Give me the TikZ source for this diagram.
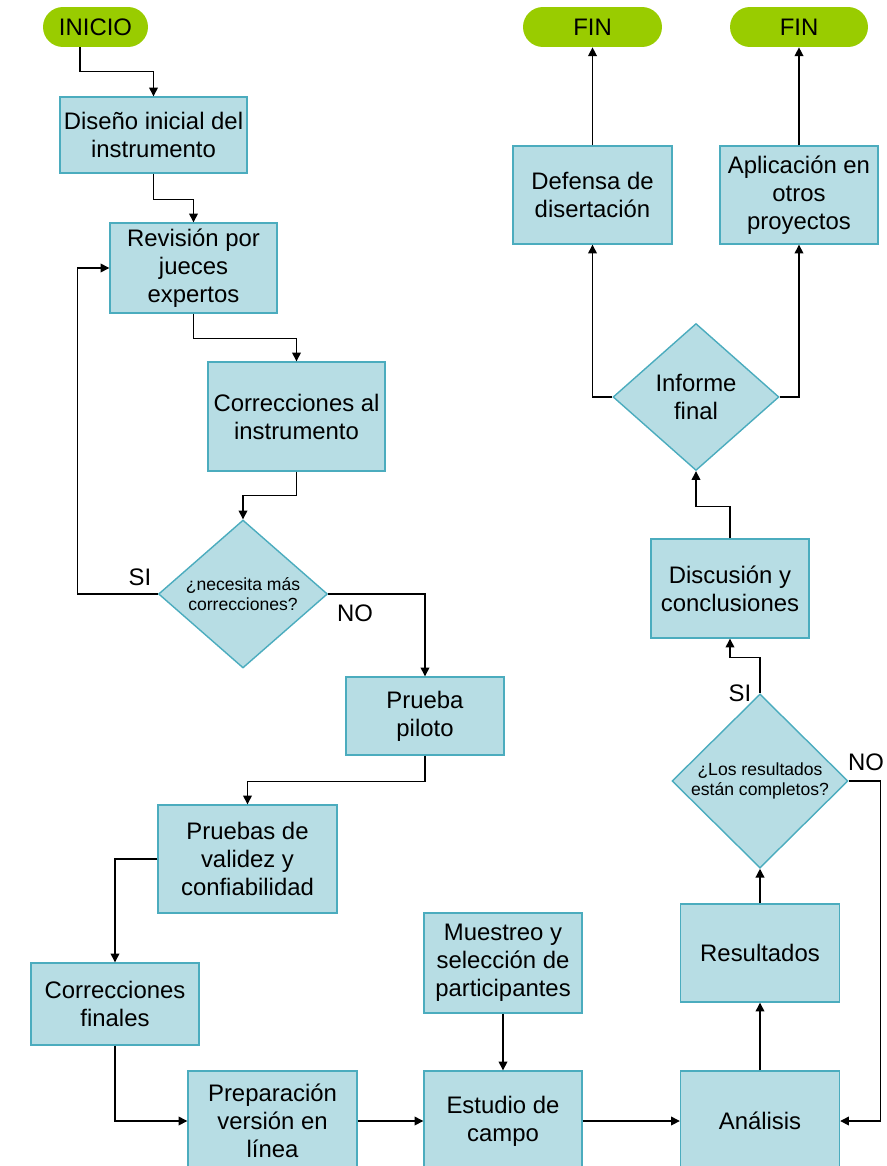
\documentclass[tikz,border=0pt]{standalone}
\usepackage{fontspec}
\setmainfont{Liberation Sans}
\usetikzlibrary{shapes.geometric,arrows.meta}

\definecolor{pgreen}{RGB}{153, 204, 0}
\definecolor{paqua}{RGB}{183, 221, 228}
\definecolor{pteal}{RGB}{75, 172, 190}

\tikzset{
    caja/.style = {
        draw          = pteal,
        line width    = 0.8pt,
        fill          = paqua,
        align         = center,
        inner sep     = 0pt,
        font          = \fontsize{13.6}{15.9}\selectfont
    },
    decision/.style = {
        caja,
        diamond,
        font          = \fontsize{10}{11.4}\selectfont
    },
    terminal/.style = {
        fill          = pgreen,
        rounded corners = 0.4cm,
        minimum height = 0.8cm,
        inner sep     = 0pt,
        font          = \fontsize{13.6}{15.9}\selectfont
    },
    etiqueta/.style = {
        inner sep     = 0pt,
        font          = \fontsize{13.6}{15.9}\selectfont
    },
    flecha/.style = {
        line width    = 0.75pt,
        -{Triangle[length=5pt, width=5pt]}
    }
}

\begin{document}
\begin{tikzpicture}[x=0.02cm, y=-0.02cm]
    \clip (0,0) rectangle (886,1166);

    \node[terminal, minimum width=2.1cm]  (inicio) at (95.5,27)  {INICIO};
    \node[terminal, minimum width=2.78cm] (fin1)   at (592.5,27) {FIN};
    \node[terminal, minimum width=2.76cm] (fin2)   at (799,27)   {FIN};

    \node[caja, minimum width=3.74cm, minimum height=1.52cm] (diseno)     at (153.5,135)   {Diseño inicial del\\instrumento};
    \node[caja, minimum width=3.34cm, minimum height=1.8cm]  (revision)   at (193.5,268)   {Revisión por\\jueces\\expertos};
    \node[caja, minimum width=3.54cm, minimum height=2.18cm] (correc)     at (296.5,416.5) {Correcciones al\\instrumento};
    \node[decision, minimum width=3.38cm, minimum height=2.96cm] (dec1)   at (243,594)     {¿necesita más\\correcciones?};
    \node[caja, minimum width=3.16cm, minimum height=1.56cm] (piloto)     at (425,716)     {Prueba\\piloto};
    \node[caja, minimum width=3.58cm, minimum height=2.16cm] (pruebas)    at (247.5,859)   {Pruebas de\\validez y\\confiabilidad};
    \node[caja, minimum width=3.36cm, minimum height=1.64cm] (cfinal)     at (115,1004)    {Correcciones\\finales};
    \node[caja, minimum width=3.38cm, minimum height=2cm]    (prep)       at (272.5,1121)  {Preparación\\versión en\\línea};
    \node[caja, minimum width=3.16cm, minimum height=2cm]    (muestreo)   at (503,963)     {Muestreo y\\selección de\\participantes};
    \node[caja, minimum width=3.16cm, minimum height=2cm]    (estudio)    at (503,1121)    {Estudio de\\campo};
    \node[caja, minimum width=3.18cm, minimum height=2cm]    (analisis)   at (760,1121)    {Análisis};
    \node[caja, minimum width=3.18cm, minimum height=1.96cm] (resultados) at (760,953)     {Resultados};
    \node[decision, minimum width=3.52cm, minimum height=2.92cm] (dec2)   at (760,781)     {¿Los resultados\\están completos?};
    \node[caja, minimum width=3.16cm, minimum height=1.98cm] (discusion)  at (730,588.5)   {Discusión y\\conclusiones};
    \node[decision, font=\fontsize{13.6}{15.9}\selectfont, minimum width=3.32cm, minimum height=2.94cm] (informe) at (696,397) {Informe\\final};
    \node[caja, minimum width=3.18cm, minimum height=1.96cm] (defensa)    at (592.5,195)   {Defensa de\\disertación};
    \node[caja, minimum width=3.16cm, minimum height=1.96cm] (aplicacion) at (799,195)     {Aplicación en\\otros\\proyectos};

    \node[etiqueta] (si1) at (140,577) {SI};
    \node[etiqueta] (no1) at (355,613) {NO};
    \node[etiqueta] (si2) at (740,693) {SI};
    \node[etiqueta] (no2) at (866,762) {NO};

    \draw[flecha] ([xshift=-0.31cm]inicio.south) -- ++(0,24) -| (diseno.north);
    \draw[flecha] (diseno.south) -- ++(0,26) -| (revision.north);
    \draw[flecha] (revision.south) -- ++(0,25) -| (correc.north);
    \draw[flecha] (correc.south) -- ++(0,24) -| (dec1.north);
    \draw[flecha] (dec1.west) -- ++(-80,0) |- (revision.west);
    \draw[flecha] (dec1.east) -| (piloto.north);
    \draw[flecha] (piloto.south) -- ++(0,26) -| (pruebas.north);
    \draw[flecha] (pruebas.west) -| (cfinal.north);
    \draw[flecha] (cfinal.south) |- (prep.west);
    \draw[flecha] (prep.east) -- (estudio.west);
    \draw[flecha] (muestreo.south) -- (estudio.north);
    \draw[flecha] (estudio.east) -- (analisis.west);
    \draw[flecha] (analisis.north) -- (resultados.south);
    \draw[flecha] (resultados.north) -- (dec2.south);
    \draw[flecha] (dec2.east) -- ++(32,0) |- (analisis.east);
    \draw[flecha] (dec2.north) -- ++(0,-36) -| (discusion.south);
    \draw[flecha] (discusion.north) -- ++(0,-32) -| (informe.south);
    \draw[flecha] (informe.west) -| (defensa.south);
    \draw[flecha] (informe.east) -| (aplicacion.south);
    \draw[flecha] (defensa.north) -- (fin1.south);
    \draw[flecha] (aplicacion.north) -- (fin2.south);
\end{tikzpicture}
\end{document}
